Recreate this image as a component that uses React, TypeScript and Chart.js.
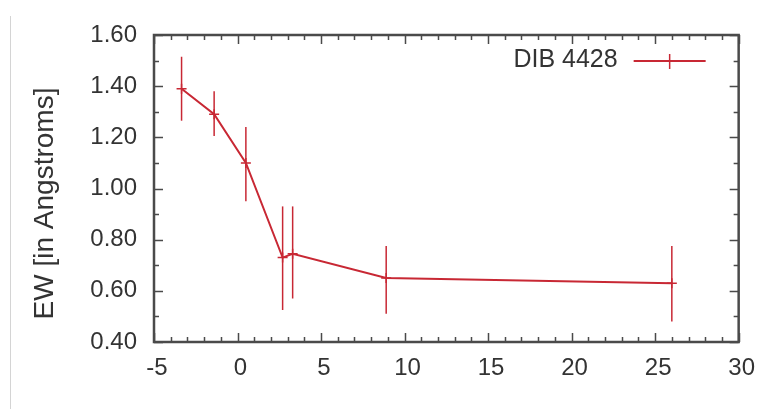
import React, { useEffect, useRef } from "react";
import { Chart, registerables } from "chart.js";

Chart.register(...registerables);

const seriesLabel = "DIB 4428";
const yTitle = "EW [in Angstroms]";
const xValues = [-3.35, -1.4, 0.5, 2.7, 3.3, 8.9, 26.0];
const yValues = [1.39, 1.29, 1.1, 0.73, 0.745, 0.65, 0.63];
const yLow = [1.265, 1.205, 0.95, 0.525, 0.57, 0.51, 0.48];
const yHigh = [1.515, 1.38, 1.24, 0.93, 0.93, 0.775, 0.775];
const xMin = -5, xMax = 30, xMajor = 5, xMinor = 1;
const yMin = 0.4, yMax = 1.6, yMajor = 0.2, yMinor = 0.1;

const RED = "rgb(200,40,52)";
const TEXT = "#333";
const FRAME = "#4a4a4a";

const framePlugin = {
  id: "gnuFrame",
  beforeDatasetsDraw(chart: any) {
    const { ctx } = chart;
    const xs = chart.scales.x, ys = chart.scales.y;
    ctx.save();
    ctx.strokeStyle = RED;
    ctx.lineWidth = 1.5;
    for (let i = 0; i < xValues.length; i++) {
      const px = xs.getPixelForValue(xValues[i]);
      ctx.beginPath();
      ctx.moveTo(px, ys.getPixelForValue(yLow[i]));
      ctx.lineTo(px, ys.getPixelForValue(yHigh[i]));
      ctx.stroke();
    }
    ctx.restore();
  },
  afterDraw(chart: any) {
    const { ctx, chartArea: a } = chart;
    const xs = chart.scales.x, ys = chart.scales.y;
    ctx.save();
    ctx.strokeStyle = FRAME;
    ctx.lineWidth = 1.5;
    // ticks
    const nx = Math.round((xMax - xMin) / xMinor);
    for (let i = 0; i <= nx; i++) {
      const v = xMin + i * xMinor;
      const px = Math.round(xs.getPixelForValue(v)) + 0.5;
      const major = Math.abs(v / xMajor - Math.round(v / xMajor)) < 1e-6;
      const len = major ? 9 : 5;
      ctx.beginPath();
      ctx.moveTo(px, a.bottom);
      ctx.lineTo(px, a.bottom - len);
      ctx.moveTo(px, a.top);
      ctx.lineTo(px, a.top + len);
      ctx.stroke();
    }
    const ny = Math.round((yMax - yMin) / yMinor);
    for (let i = 0; i <= ny; i++) {
      const v = yMin + i * yMinor;
      const py = Math.round(ys.getPixelForValue(v)) + 0.5;
      const major = i % 2 === 0;
      const len = major ? 9 : 5;
      ctx.beginPath();
      ctx.moveTo(a.left, py);
      ctx.lineTo(a.left + len, py);
      ctx.moveTo(a.right, py);
      ctx.lineTo(a.right - len, py);
      ctx.stroke();
    }
    ctx.lineWidth = 2.5;
    ctx.strokeRect(a.left, a.top, a.right - a.left, a.bottom - a.top);

    // y title
    ctx.fillStyle = TEXT;
    ctx.font = "28px 'Liberation Sans', Arial, sans-serif";
    ctx.textAlign = "center";
    ctx.textBaseline = "middle";
    ctx.save();
    ctx.translate(45, (a.top + a.bottom) / 2 + 15);
    ctx.rotate(-Math.PI / 2);
    ctx.fillText(yTitle, 0, 0);
    ctx.restore();

    // legend
    const label = chart.data.datasets[0].label;
    ctx.font = "25px 'Liberation Sans', Arial, sans-serif";
    ctx.textAlign = "right";
    ctx.textBaseline = "middle";
    const ly = a.top + 25;
    const lx = a.right - 121;
    ctx.fillText(label, lx, ly);
    ctx.strokeStyle = RED;
    ctx.lineWidth = 2;
    ctx.beginPath();
    ctx.moveTo(lx + 16, ly + 1);
    ctx.lineTo(lx + 88, ly + 1);
    ctx.stroke();
    ctx.lineWidth = 1.5;
    ctx.beginPath();
    ctx.moveTo(lx + 52, ly - 6);
    ctx.lineTo(lx + 52, ly + 9);
    ctx.stroke();
    ctx.restore();
  },
};

export default function App() {
  const ref = useRef<HTMLCanvasElement>(null);
  useEffect(() => {
    const chart = new Chart(ref.current!, {
      type: "scatter",
      data: {
        datasets: [
          {
            label: seriesLabel,
            data: xValues.map((x, i) => ({ x, y: yValues[i] })),
            showLine: true,
            borderColor: RED,
            backgroundColor: RED,
            borderWidth: 2,
            pointStyle: "cross",
            pointRadius: 5,
            pointBorderWidth: 1.5,
            tension: 0,
          },
        ],
      },
      options: {
        animation: false,
        responsive: false,
        layout: { padding: { left: 0, right: 21, top: 35, bottom: 0 } },
        plugins: { legend: { display: false }, tooltip: { enabled: false } },
        scales: {
          x: {
            type: "linear",
            min: xMin,
            max: xMax,
            grid: { display: false, drawTicks: false },
            border: { display: false },
            ticks: {
              stepSize: xMajor,
              padding: 12,
              labelOffset: 3,
              color: TEXT,
              font: { family: "'Liberation Sans', Arial, sans-serif", size: 24 },
              maxRotation: 0,
            },
            afterFit: (s: any) => {
              s.height = 67;
            },
          },
          y: {
            type: "linear",
            min: yMin,
            max: yMax,
            grid: { display: false, drawTicks: false },
            border: { display: false },
            ticks: {
              stepSize: yMajor,
              padding: 17,
              color: TEXT,
              font: { family: "'Liberation Sans', Arial, sans-serif", size: 24 },
              callback: (v: any) => Number(v).toFixed(2),
            },
            afterFit: (s: any) => {
              s.width = 154;
            },
          },
        },
      },
      plugins: [framePlugin],
    });
    return () => chart.destroy();
  }, []);
  return (
    <div style={{ position: "fixed", left: 0, top: 0, width: 764, height: 409, background: "#fff" }}>
      <div style={{ position: "absolute", left: 10, top: 16, width: 1, height: 393, background: "#d4d4d4" }} />
      <canvas ref={ref} width={764} height={409} style={{ position: "absolute", left: 0, top: 0 }} />
    </div>
  );
}
